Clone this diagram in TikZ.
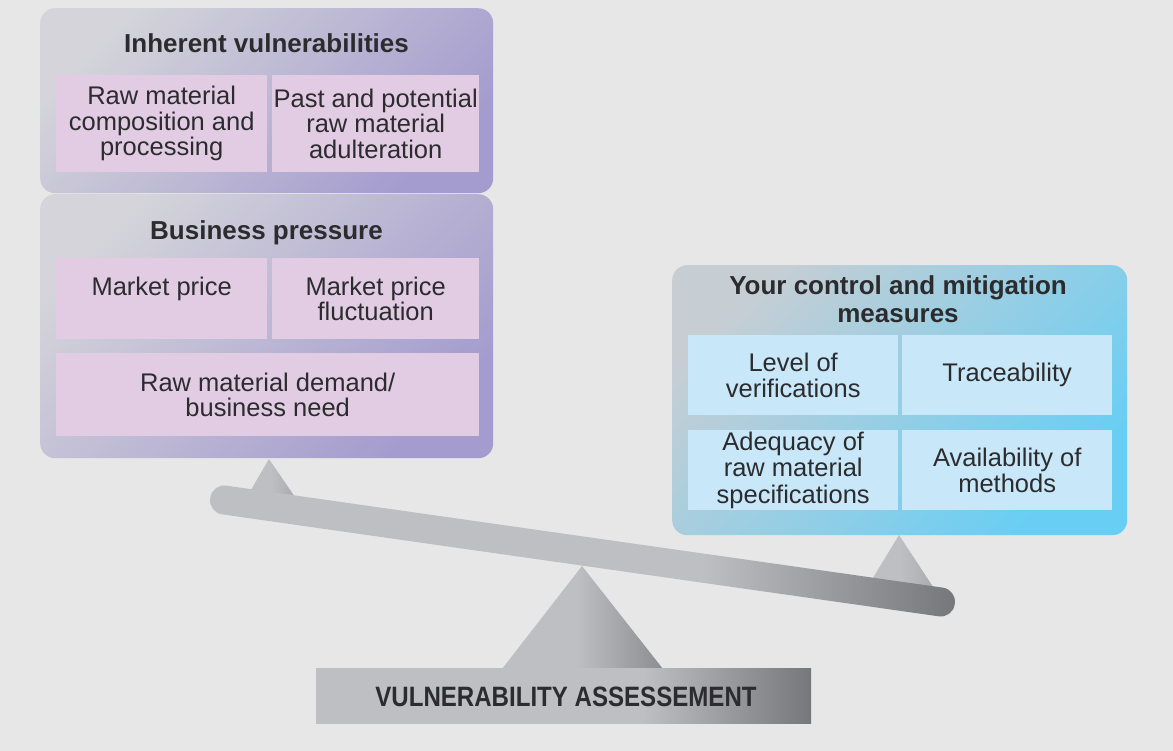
\documentclass[tikz,border=0pt]{standalone}
\usepackage{fontspec}
\setmainfont{Liberation Sans}
\usepackage{graphicx}
\definecolor{bgc}{HTML}{E7E7E7}
\definecolor{pTL}{HTML}{D4D4DA}
\definecolor{pBR}{HTML}{A49CCE}
\definecolor{pcell}{HTML}{E1CCE4}
\definecolor{bTL}{HTML}{C6CED4}
\definecolor{bBR}{HTML}{68CEF4}
\definecolor{bcell}{HTML}{C8E8F9}
\definecolor{txt}{HTML}{2C2C2E}
\definecolor{gA}{HTML}{BEBFC2}
\definecolor{gB}{HTML}{76777B}
\definecolor{gC}{HTML}{8C8D91}
\definecolor{gD}{HTML}{A8A9AD}
\pgfdeclarehorizontalshading{beamsh}{100bp}{color(0bp)=(gA); color(25bp)=(gA); color(58bp)=(gA); color(75bp)=(gB); color(100bp)=(gB)}
\pgfdeclarehorizontalshading{trish}{100bp}{color(0bp)=(gA); color(25bp)=(gA); color(48bp)=(gA); color(75bp)=(gC); color(100bp)=(gC)}
\pgfdeclarehorizontalshading{smtrish}{100bp}{color(0bp)=(gA); color(25bp)=(gA); color(50bp)=(gA); color(75bp)=(gD); color(100bp)=(gD)}
\pgfdeclarehorizontalshading{basesh}{100bp}{color(0bp)=(gA); color(25bp)=(gA); color(58bp)=(gA); color(75bp)=(gB); color(100bp)=(gB)}
\tikzset{
  purplebox/.style={rounded corners=15pt, inner sep=0pt, anchor=north west,
    top color=pTL, bottom color=pBR, shading angle=45},
  bluebox/.style={rounded corners=15pt, inner sep=0pt, anchor=north west,
    top color=bTL, bottom color=bBR, shading angle=45},
  cellbase/.style={inner sep=0pt, anchor=north west, align=center, text=txt},
  pcellbox/.style={cellbase, fill=pcell, font=\fontsize{25.5pt}{25.5pt}\selectfont},
  bcellbox/.style={cellbase, fill=bcell, font=\fontsize{25.5pt}{26.5pt}\selectfont},
  titletext/.style={inner sep=0pt, align=center, text=txt,
    font=\bfseries\fontsize{26pt}{28pt}\selectfont},
}
\begin{document}
\begin{tikzpicture}[x=1pt,y=-1pt]
\useasboundingbox (0,0) rectangle (1173,751);
\fill[bgc] (0,0) rectangle (1173,751);

% small supports
\shade[shading=smtrish] (245,500) -- (269,459) -- (297,500) -- cycle;
\shade[shading=smtrish] (862,596) -- (899,535) -- (939,596) -- cycle;

% fulcrum
\shade[shading=trish] (502,669) -- (582,566) -- (663,669) -- cycle;

% beam
\node[shade, shading=beamsh, rounded corners=14pt, rotate=-8.1,
      minimum width=752pt, minimum height=29pt, inner sep=0pt] (beam) at (582.5,551) {};

% base
\node[shade, shading=basesh, minimum width=495pt, minimum height=55pt, inner sep=0pt,
      anchor=north west] (base) at (316,668) {};
\node[inner sep=0pt, text=txt, font=\bfseries\fontsize{28pt}{30pt}\selectfont] (va) at (566,697)
  {\scalebox{0.86}[1]{VULNERABILITY ASSESSEMENT}};

% Inherent vulnerabilities
\node[purplebox, minimum width=453pt, minimum height=185pt] (iv) at (40,8) {};
\node[titletext] (ivt) at (266.5,43) {Inherent vulnerabilities};
\node[pcellbox, minimum width=211pt, minimum height=97pt] (rmc) at (56,75)
  {Raw material\\composition and\\processing};
\node[pcellbox, minimum width=207pt, minimum height=97pt] (ppa) at (272,75)
  {Past and potential\\raw material\\adulteration};

% Business pressure
\node[purplebox, minimum width=453pt, minimum height=264pt] (bp) at (40,194) {};
\node[titletext] (bpt) at (266.5,233) {Business pressure};
\node[pcellbox, minimum width=211pt, minimum height=81pt] (mp) at (56,258)
  {Market price\\\phantom{x}};
\node[pcellbox, minimum width=207pt, minimum height=81pt] (mpf) at (272,258)
  {Market price\\fluctuation};
\node[pcellbox, minimum width=423pt, minimum height=83pt] (rmd) at (56,353)
  {Raw material demand/\\business need};

% Control and mitigation
\node[bluebox, minimum width=455pt, minimum height=270pt] (cm) at (672,265) {};
\node[titletext] (cmt) at (898,299) {Your control and mitigation\\measures};
\node[bcellbox, minimum width=210pt, minimum height=80pt] (lv) at (688,335)
  {Level of\\verifications};
\node[bcellbox, minimum width=210pt, minimum height=80pt] (tr) at (902,335)
  {Traceability};
\node[bcellbox, minimum width=210pt, minimum height=80pt] (ad) at (688,430)
  {Adequacy of\\raw material\\specifications};
\node[bcellbox, minimum width=210pt, minimum height=80pt] (av) at (902,430)
  {Availability of\\methods};
\end{tikzpicture}
\end{document}
